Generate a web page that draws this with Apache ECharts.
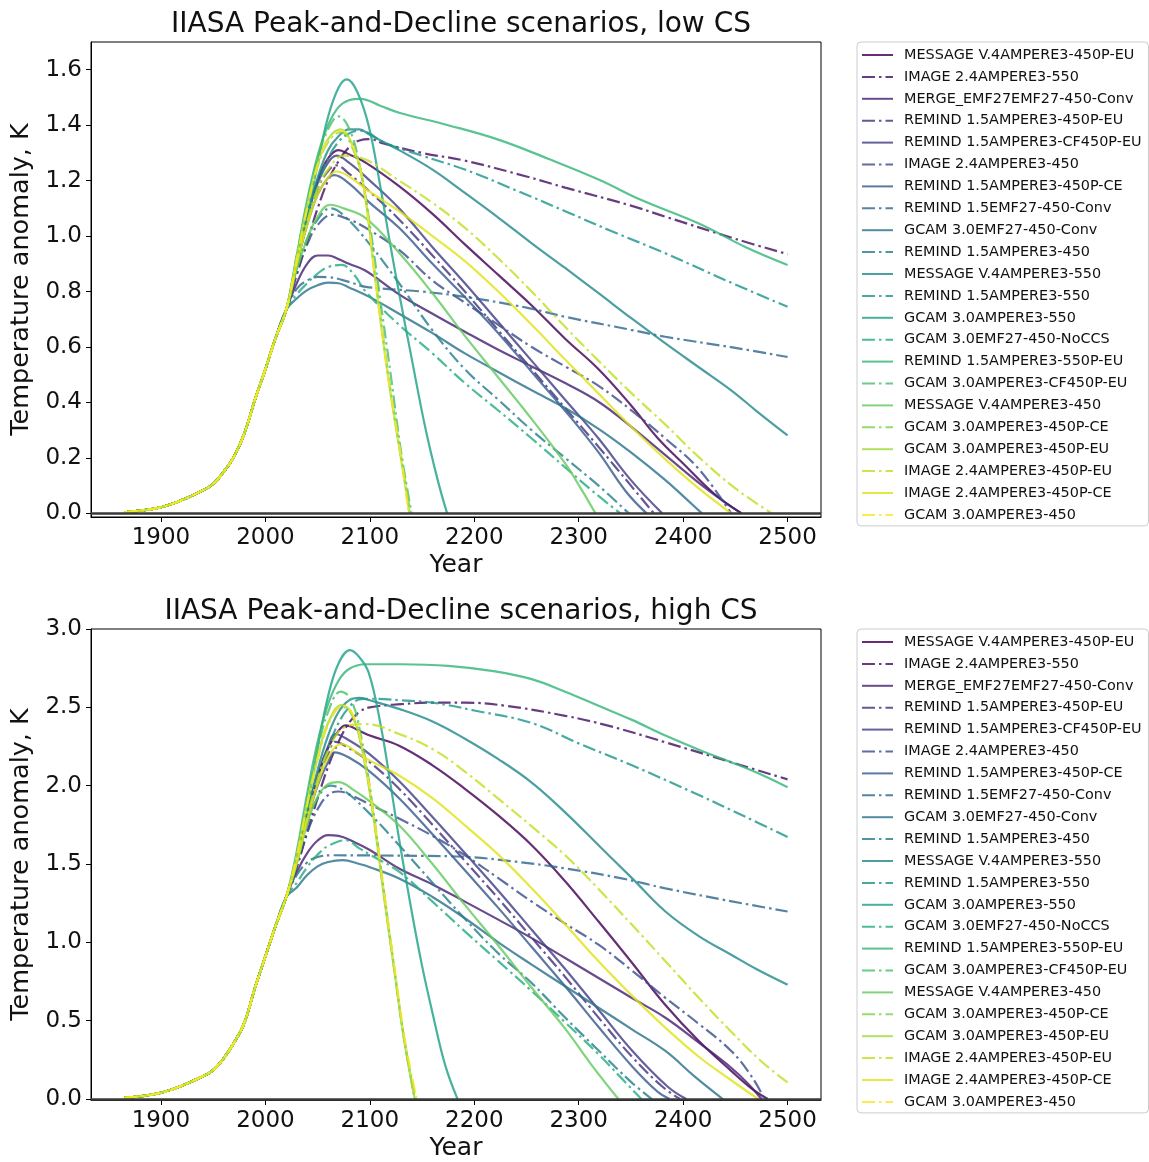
<!DOCTYPE html>
<html>
<head>
<meta charset="utf-8">
<script src="https://cdn.jsdelivr.net/npm/echarts@6/dist/echarts.min.js"></script>
<style>html,body{margin:0;padding:0;background:#fff;}#c{width:1149px;height:1162px;}</style>
</head>
<body>
<div id="c"></div>
<script>
const scenarios = [
 'MESSAGE V.4AMPERE3-450P-EU','IMAGE 2.4AMPERE3-550','MERGE_EMF27EMF27-450-Conv','REMIND 1.5AMPERE3-450P-EU',
 'REMIND 1.5AMPERE3-CF450P-EU','IMAGE 2.4AMPERE3-450','REMIND 1.5AMPERE3-450P-CE','REMIND 1.5EMF27-450-Conv',
 'GCAM 3.0EMF27-450-Conv','REMIND 1.5AMPERE3-450','MESSAGE V.4AMPERE3-550','REMIND 1.5AMPERE3-550',
 'GCAM 3.0AMPERE3-550','GCAM 3.0EMF27-450-NoCCS','REMIND 1.5AMPERE3-550P-EU','GCAM 3.0AMPERE3-CF450P-EU',
 'MESSAGE V.4AMPERE3-450','GCAM 3.0AMPERE3-450P-CE','GCAM 3.0AMPERE3-450P-EU','IMAGE 2.4AMPERE3-450P-EU',
 'IMAGE 2.4AMPERE3-450P-CE','GCAM 3.0AMPERE3-450'
];
const colors = ['#440154','#471264','#482273','#46327e','#424086','#3c4f8a','#375b8d','#31688e','#2c738e','#27808e','#238a8d',
 '#1f978b','#1fa188','#26ac81','#34b679','#4ac16d','#63cb5f','#7fd34e','#a0da39','#c2df23','#e0e318','#fde725'];

const histYears = [1865,1880,1900,1920,1940,1950,1960,1970,1980,1990,2000,2010,2020];
const histLow   = [0.004,0.010,0.022,0.048,0.083,0.106,0.150,0.205,0.290,0.410,0.520,0.635,0.735];
const histHigh  = [0.008,0.018,0.040,0.085,0.145,0.185,0.260,0.360,0.490,0.710,0.910,1.110,1.290];

const xTicks = [1900,2000,2100,2200,2300,2400,2500];
const yTicksLow = [0,0.2,0.4,0.6,0.8,1.0,1.2,1.4,1.6];
const yTicksHigh = [0,0.5,1.0,1.5,2.0,2.5,3.0];

const lowCS = [
 [[2030,0.9],[2040,1.07],[2050,1.2],[2060,1.28],[2070,1.31],[2080,1.295],[2096,1.265],[2128,1.18],[2160,1.08],[2191,0.97],[2223,0.86],[2255,0.75],[2287,0.63],[2319,0.52],[2350,0.39],[2376,0.27],[2400,0.18],[2430,0.07],[2456,0]],
 [[2030,0.86],[2040,0.98],[2050,1.1],[2060,1.2],[2070,1.27],[2080,1.32],[2090,1.345],[2100,1.35],[2112,1.335],[2150,1.3],[2191,1.272],[2250,1.215],[2287,1.175],[2350,1.11],[2383,1.07],[2450,0.99],[2500,0.935]],
 [[2030,0.83],[2040,0.9],[2050,0.93],[2060,0.93],[2070,0.917],[2080,0.9],[2096,0.875],[2128,0.79],[2160,0.72],[2191,0.655],[2223,0.59],[2255,0.53],[2287,0.47],[2320,0.4],[2351,0.31],[2383,0.21],[2415,0.11],[2440,0.04],[2456,0]],
 [[2030,0.9],[2040,1.05],[2050,1.17],[2060,1.235],[2068,1.255],[2080,1.225],[2100,1.16],[2128,1.06],[2160,0.93],[2191,0.8],[2223,0.66],[2255,0.52],[2287,0.38],[2319,0.24],[2350,0.1],[2372,0]],
 [[2030,0.91],[2040,1.07],[2050,1.19],[2060,1.265],[2068,1.29],[2080,1.265],[2100,1.2],[2128,1.1],[2160,0.96],[2191,0.83],[2223,0.69],[2255,0.55],[2287,0.41],[2319,0.27],[2350,0.12],[2380,0]],
 [[2030,0.87],[2040,0.97],[2050,1.04],[2064,1.077],[2080,1.06],[2096,1.03],[2128,0.95],[2160,0.84],[2191,0.76],[2223,0.68],[2255,0.6],[2287,0.53],[2319,0.46],[2351,0.37],[2383,0.27],[2415,0.16],[2446,0]],
 [[2030,0.9],[2040,1.04],[2050,1.15],[2060,1.21],[2066,1.22],[2080,1.19],[2100,1.12],[2128,1.03],[2160,0.9],[2191,0.78],[2223,0.65],[2255,0.51],[2287,0.37],[2319,0.22],[2345,0.08],[2365,0]],
 [[2030,0.81],[2040,0.84],[2050,0.853],[2060,0.852],[2080,0.835],[2096,0.817],[2150,0.8],[2191,0.781],[2250,0.742],[2287,0.709],[2350,0.662],[2383,0.637],[2450,0.597],[2500,0.564]],
 [[2030,0.775],[2040,0.805],[2050,0.823],[2060,0.832],[2070,0.83],[2080,0.815],[2100,0.78],[2128,0.72],[2160,0.65],[2191,0.577],[2223,0.51],[2255,0.444],[2287,0.38],[2319,0.305],[2350,0.22],[2383,0.12],[2405,0.045],[2418,0]],
 [[2030,0.88],[2040,0.99],[2050,1.06],[2062,1.1],[2075,1.075],[2100,0.97],[2128,0.83],[2160,0.66],[2191,0.52],[2223,0.41],[2255,0.3],[2287,0.2],[2319,0.1],[2348,0]],
 [[2030,0.9],[2040,1.07],[2050,1.21],[2060,1.31],[2070,1.36],[2080,1.385],[2090,1.385],[2100,1.365],[2128,1.31],[2160,1.24],[2191,1.156],[2223,1.067],[2255,0.974],[2287,0.885],[2319,0.794],[2351,0.702],[2383,0.613],[2415,0.527],[2446,0.444],[2470,0.37],[2500,0.281]],
 [[2030,0.89],[2040,1.05],[2050,1.18],[2060,1.28],[2070,1.34],[2080,1.37],[2090,1.38],[2100,1.37],[2112,1.34],[2150,1.29],[2191,1.24],[2240,1.165],[2287,1.09],[2330,1.02],[2383,0.938],[2440,0.842],[2500,0.745]],
 [[2030,0.89],[2040,1.07],[2050,1.26],[2060,1.43],[2070,1.535],[2078,1.565],[2088,1.52],[2099,1.396],[2110,1.18],[2120,0.96],[2128,0.795],[2140,0.56],[2153,0.311],[2165,0.12],[2174,0]],
 [[2030,0.79],[2040,0.83],[2050,0.865],[2060,0.888],[2073,0.896],[2085,0.86],[2096,0.8],[2128,0.68],[2160,0.577],[2191,0.47],[2223,0.371],[2255,0.27],[2287,0.166],[2315,0.075],[2340,0]],
 [[2030,0.93],[2040,1.13],[2050,1.29],[2060,1.4],[2070,1.465],[2080,1.49],[2091,1.495],[2110,1.47],[2128,1.445],[2175,1.4],[2223,1.348],[2270,1.28],[2319,1.204],[2360,1.13],[2414,1.047],[2460,0.96],[2500,0.896]],
 [[2030,0.93],[2040,1.12],[2050,1.28],[2060,1.385],[2070,1.432],[2080,1.39],[2090,1.26],[2100,1.04],[2110,0.77],[2120,0.5],[2130,0.22],[2140,0]],
 [[2030,0.88],[2040,0.99],[2050,1.07],[2062,1.113],[2075,1.1],[2096,1.065],[2128,0.94],[2160,0.794],[2191,0.64],[2223,0.49],[2255,0.34],[2287,0.18],[2302,0.09],[2316,0]],
 [[2030,0.92],[2040,1.1],[2050,1.25],[2060,1.34],[2072,1.375],[2082,1.33],[2093,1.2],[2105,0.86],[2118,0.49],[2131,0.18],[2139,0]],
 [[2030,0.92],[2040,1.11],[2050,1.26],[2060,1.35],[2072,1.385],[2082,1.34],[2093,1.205],[2105,0.85],[2118,0.48],[2131,0.17],[2138,0]],
 [[2030,0.9],[2040,1.05],[2050,1.17],[2060,1.24],[2075,1.29],[2096,1.276],[2128,1.2],[2160,1.12],[2191,1.03],[2223,0.92],[2255,0.8],[2287,0.673],[2319,0.55],[2351,0.432],[2383,0.32],[2415,0.203],[2450,0.09],[2485,0]],
 [[2030,0.9],[2040,1.04],[2050,1.15],[2060,1.21],[2068,1.233],[2080,1.215],[2100,1.16],[2128,1.09],[2160,1.0],[2191,0.91],[2223,0.8],[2255,0.68],[2287,0.555],[2319,0.432],[2351,0.31],[2383,0.195],[2415,0.09],[2446,0]],
 [[2030,0.915],[2040,1.1],[2050,1.255],[2060,1.345],[2073,1.38],[2083,1.33],[2093,1.2],[2105,0.85],[2118,0.48],[2131,0.175],[2137,0]]
];

const highCS = [
 [[2030,1.52],[2040,1.8],[2050,2.05],[2060,2.24],[2070,2.35],[2077,2.385],[2090,2.35],[2100,2.32],[2128,2.255],[2160,2.13],[2191,1.98],[2223,1.81],[2255,1.62],[2287,1.39],[2319,1.133],[2351,0.87],[2383,0.6],[2415,0.37],[2446,0.18],[2465,0.07],[2481,0]],
 [[2030,1.48],[2040,1.7],[2050,1.92],[2060,2.12],[2070,2.28],[2080,2.4],[2090,2.47],[2100,2.5],[2130,2.52],[2160,2.53],[2191,2.53],[2230,2.51],[2287,2.446],[2330,2.38],[2383,2.277],[2446,2.15],[2500,2.04]],
 [[2030,1.45],[2040,1.57],[2050,1.65],[2060,1.684],[2070,1.68],[2085,1.64],[2100,1.59],[2128,1.472],[2160,1.37],[2191,1.26],[2223,1.145],[2255,1.027],[2287,0.9],[2319,0.773],[2351,0.645],[2383,0.519],[2415,0.36],[2446,0.2],[2462,0.1],[2475,0]],
 [[2030,1.52],[2040,1.8],[2050,2.03],[2060,2.2],[2067,2.28],[2080,2.24],[2100,2.15],[2128,1.98],[2160,1.75],[2191,1.52],[2223,1.28],[2255,1.03],[2287,0.78],[2319,0.52],[2351,0.27],[2380,0.08],[2397,0]],
 [[2030,1.53],[2040,1.83],[2050,2.07],[2060,2.25],[2067,2.33],[2080,2.29],[2100,2.2],[2128,2.03],[2160,1.8],[2191,1.57],[2223,1.33],[2255,1.08],[2287,0.83],[2319,0.57],[2351,0.31],[2385,0.08],[2403,0]],
 [[2030,1.48],[2040,1.7],[2050,1.85],[2060,1.94],[2070,1.963],[2085,1.93],[2100,1.88],[2128,1.79],[2160,1.68],[2191,1.556],[2223,1.41],[2255,1.26],[2287,1.12],[2319,0.985],[2351,0.82],[2383,0.646],[2415,0.48],[2446,0.307],[2465,0.15],[2478,0]],
 [[2030,1.51],[2040,1.78],[2050,2.0],[2060,2.15],[2066,2.213],[2080,2.18],[2100,2.09],[2128,1.92],[2160,1.69],[2191,1.46],[2223,1.22],[2255,0.97],[2287,0.72],[2319,0.46],[2351,0.21],[2375,0.05],[2387,0]],
 [[2030,1.43],[2040,1.51],[2050,1.545],[2064,1.556],[2100,1.555],[2150,1.552],[2191,1.546],[2240,1.515],[2287,1.472],[2340,1.41],[2383,1.345],[2440,1.27],[2500,1.197]],
 [[2030,1.35],[2040,1.43],[2050,1.485],[2060,1.513],[2074,1.525],[2090,1.5],[2100,1.48],[2128,1.408],[2160,1.29],[2191,1.154],[2223,1.0],[2255,0.858],[2287,0.72],[2319,0.583],[2351,0.445],[2383,0.307],[2410,0.15],[2438,0]],
 [[2030,1.5],[2040,1.75],[2050,1.92],[2062,2.0],[2075,1.97],[2100,1.82],[2128,1.62],[2160,1.38],[2191,1.15],[2223,0.93],[2255,0.74],[2287,0.52],[2319,0.31],[2350,0.11],[2370,0]],
 [[2030,1.52],[2040,1.82],[2050,2.1],[2060,2.32],[2070,2.47],[2080,2.545],[2090,2.56],[2100,2.545],[2128,2.49],[2160,2.41],[2191,2.3],[2223,2.17],[2255,2.02],[2287,1.83],[2319,1.62],[2351,1.41],[2383,1.197],[2415,1.04],[2446,0.921],[2470,0.83],[2500,0.73]],
 [[2030,1.5],[2040,1.78],[2050,2.03],[2060,2.24],[2070,2.4],[2080,2.5],[2090,2.55],[2100,2.555],[2130,2.545],[2160,2.53],[2200,2.48],[2255,2.4],[2300,2.27],[2351,2.13],[2415,1.94],[2460,1.8],[2500,1.673]],
 [[2030,1.53],[2040,1.86],[2050,2.24],[2060,2.57],[2070,2.78],[2081,2.865],[2090,2.82],[2099,2.72],[2110,2.4],[2120,2.0],[2128,1.66],[2140,1.2],[2150,0.85],[2160,0.55],[2172,0.22],[2184,0]],
 [[2030,1.38],[2040,1.48],[2050,1.56],[2060,1.615],[2077,1.652],[2090,1.6],[2100,1.56],[2128,1.451],[2160,1.26],[2191,1.07],[2223,0.88],[2255,0.689],[2287,0.49],[2319,0.286],[2340,0.14],[2360,0]],
 [[2030,1.58],[2040,1.95],[2050,2.28],[2060,2.52],[2070,2.67],[2080,2.745],[2096,2.775],[2130,2.775],[2175,2.765],[2220,2.73],[2255,2.68],[2287,2.6],[2319,2.51],[2351,2.42],[2383,2.32],[2415,2.23],[2446,2.15],[2475,2.07],[2500,1.99]],
 [[2030,1.56],[2040,1.92],[2050,2.23],[2060,2.47],[2072,2.6],[2082,2.55],[2092,2.3],[2102,1.9],[2112,1.4],[2122,0.9],[2132,0.42],[2143,0]],
 [[2030,1.5],[2040,1.76],[2050,1.93],[2060,2.01],[2070,2.023],[2085,1.97],[2100,1.9],[2128,1.747],[2160,1.5],[2191,1.239],[2223,0.98],[2255,0.71],[2287,0.45],[2312,0.22],[2338,0]],
 [[2030,1.55],[2040,1.88],[2050,2.17],[2060,2.39],[2073,2.505],[2083,2.45],[2093,2.22],[2103,1.83],[2113,1.33],[2123,0.85],[2133,0.38],[2144,0]],
 [[2030,1.55],[2040,1.89],[2050,2.18],[2060,2.4],[2073,2.515],[2083,2.46],[2093,2.22],[2103,1.82],[2113,1.32],[2123,0.84],[2133,0.37],[2143,0]],
 [[2030,1.52],[2040,1.8],[2050,2.04],[2060,2.22],[2075,2.37],[2096,2.393],[2128,2.33],[2160,2.234],[2191,2.09],[2223,1.917],[2255,1.74],[2287,1.556],[2319,1.34],[2351,1.112],[2383,0.88],[2415,0.646],[2446,0.43],[2475,0.24],[2500,0.106]],
 [[2030,1.51],[2040,1.78],[2050,2.01],[2060,2.18],[2073,2.266],[2090,2.2],[2100,2.16],[2128,2.065],[2160,1.92],[2191,1.747],[2223,1.56],[2255,1.345],[2287,1.115],[2319,0.879],[2351,0.66],[2383,0.455],[2415,0.27],[2446,0.12],[2472,0]],
 [[2030,1.55],[2040,1.88],[2050,2.17],[2060,2.39],[2074,2.51],[2084,2.45],[2094,2.2],[2104,1.8],[2114,1.3],[2124,0.82],[2134,0.36],[2145,0]]
];

const FONT = 'DejaVu Sans';
const DASHDOT = [13, 4, 2.5, 4];

function makeSeries(rows, hist, gi) {
  return rows.map((fut, i) => {
    const s = {
      name: scenarios[i], type: 'line', xAxisIndex: gi, yAxisIndex: gi,
      data: histYears.map((y, k) => [y, hist[k]]).concat(fut),
      symbol: 'none', showSymbol: false, smooth: 0.4,
      lineStyle: { color: colors[i], width: 2.2, opacity: 0.82, type: i % 2 ? DASHDOT : 'solid' },
      itemStyle: { color: colors[i] },
      emphasis: { disabled: true }, silent: true, z: 2
    };
    if (i === rows.length - 1) {
      s.markLine = { silent: true, symbol: 'none', label: { show: false }, animation: false,
        lineStyle: { color: '#3a3a3a', width: 2.6, type: 'solid', opacity: 1 }, data: [{ yAxis: 0 }] };
    }
    return s;
  });
}

function xAxisCfg(gi) {
  return {
    type: 'value', gridIndex: gi, min: 1833, max: 2532,
    name: 'Year', nameLocation: 'middle', nameGap: 36,
    nameTextStyle: { fontFamily: FONT, fontSize: 25, color: '#111' },
    axisLine: { show: true, onZero: false, lineStyle: { color: '#000', width: 1 } },
    axisTick: { show: true, length: 5, inside: false, customValues: xTicks, lineStyle: { color: '#000' } },
    axisLabel: { customValues: xTicks, fontFamily: FONT, fontSize: 23, color: '#111', margin: 10,
      formatter: v => String(v) },
    splitLine: { show: false }
  };
}
function yAxisCfg(gi, min, max, ticks) {
  return {
    type: 'value', gridIndex: gi, min: min, max: max,
    name: 'Temperature anomaly, K', nameLocation: 'middle', nameGap: 56, nameRotate: 90,
    nameTextStyle: { fontFamily: FONT, fontSize: 25.5, color: '#111' },
    axisLine: { show: true, onZero: false, lineStyle: { color: '#000', width: 1 } },
    axisTick: { show: true, length: 5, inside: false, customValues: ticks, lineStyle: { color: '#000' } },
    axisLabel: { customValues: ticks, fontFamily: FONT, fontSize: 23, color: '#111', margin: 9,
      formatter: v => v.toFixed(1) },
    splitLine: { show: false }
  };
}
function legendCfg(top) {
  return {
    data: scenarios, orient: 'vertical', left: 857, top: top,
    itemWidth: 31, itemHeight: 14, itemGap: 7.9, padding: [6, 7, 4, 4],
    borderColor: '#cccccc', borderWidth: 1, borderRadius: 4, backgroundColor: 'rgba(255,255,255,0.8)',
    selectedMode: false,
    itemStyle: { opacity: 0, borderWidth: 0 },
    textStyle: { fontFamily: FONT, fontSize: 14.4, color: '#111', lineHeight: 14, padding: [0, 0, 0, 6] }
  };
}

const chart = echarts.init(document.getElementById('c'), null, { renderer: 'canvas' });
chart.setOption({
  animation: false,
  backgroundColor: '#fff',
  title: [
    { text: 'IIASA Peak-and-Decline scenarios, low CS', left: 456, top: 6, textAlign: 'center',
      textStyle: { fontFamily: FONT, fontSize: 28, fontWeight: 'normal', color: '#111' } },
    { text: 'IIASA Peak-and-Decline scenarios, high CS', left: 456, top: 593, textAlign: 'center',
      textStyle: { fontFamily: FONT, fontSize: 28, fontWeight: 'normal', color: '#111' } }
  ],
  grid: [
    { left: 91, top: 42, width: 730, height: 475, show: true, borderColor: '#000', borderWidth: 1, containLabel: false },
    { left: 91, top: 629, width: 730, height: 473, show: true, borderColor: '#000', borderWidth: 1, containLabel: false }
  ],
  xAxis: [xAxisCfg(0), xAxisCfg(1)],
  yAxis: [yAxisCfg(0, -0.013, 1.7, yTicksLow), yAxisCfg(1, -0.006, 3.0, yTicksHigh)],
  legend: [legendCfg(42), legendCfg(629)],
  series: makeSeries(lowCS, histLow, 0).concat(makeSeries(highCS, histHigh, 1))
});
</script>
</body>
</html>
